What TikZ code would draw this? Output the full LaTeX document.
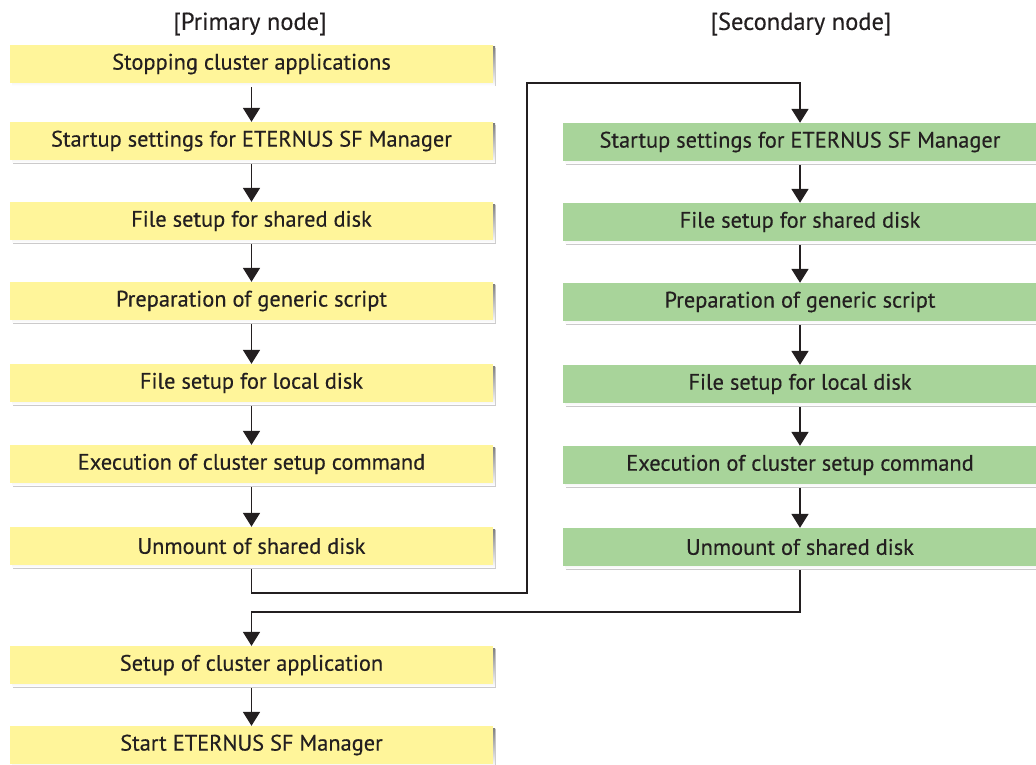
\documentclass[tikz,border=0pt]{standalone}
\usepackage{fontspec}
\setmainfont{PT Sans}[FakeBold=0.3]
\usetikzlibrary{arrows.meta,calc}
\definecolor{boxyellow}{HTML}{FFF59A}
\definecolor{boxgreen}{HTML}{A8D49A}
\definecolor{ink}{HTML}{231F20}
\definecolor{shade}{HTML}{A09EA0}
\tikzset{
  stepbase/.style={minimum height=38pt, inner sep=0pt, font=\fontsize{22.4}{24}\selectfont, text=ink},
  ybox/.style={stepbase, fill=boxyellow, minimum width=483pt},
  gbox/.style={stepbase, fill=boxgreen, minimum width=474pt},
  head/.style={font=\fontsize{24.5}{26}\selectfont, text=ink, inner sep=0pt},
  conn/.style={draw=ink, line width=1.8pt, -{Triangle[width=17pt,length=14pt]}},
}
\begin{document}
\begin{tikzpicture}[x=1pt,y=-1pt]
\useasboundingbox (0,0) rectangle (1036,765);
% headers
\node[head] (hp) at (250,24) {[Primary node]};
\node[head] (hs) at (801,24) {[Secondary node]};
% shadows
\foreach \yy in {64,141,221,301,383,464,546,665,745}{
  \fill[shade!55] (12.5,\yy-19+3) rectangle (496,\yy+19+3.5);
  \fill[shade] (12,\yy-19+2) rectangle (495,\yy+19+2.5);
}
\foreach \yy in {142,222,302,384,465,547}{
  \fill[shade!55] (565.5,\yy-19+3) rectangle (1040,\yy+19+3.5);
  \fill[shade] (565,\yy-19+2) rectangle (1040,\yy+19+2.5);
}
% primary column
\node[ybox] (p1) at (251.5,64) {Stopping cluster applications};
\node[ybox] (p2) at (251.5,141) {Startup settings for ETERNUS SF Manager};
\node[ybox] (p3) at (251.5,221) {File setup for shared disk};
\node[ybox] (p4) at (251.5,301) {Preparation of generic script};
\node[ybox] (p5) at (251.5,383) {File setup for local disk};
\node[ybox] (p6) at (251.5,464) {Execution of cluster setup command};
\node[ybox] (p7) at (251.5,546) {Unmount of shared disk};
\node[ybox] (p8) at (251.5,665) {Setup of cluster application};
\node[ybox] (p9) at (251.5,745) {Start ETERNUS SF Manager};
% secondary column
\node[gbox] (s1) at (800,142) {Startup settings for ETERNUS SF Manager};
\node[gbox] (s2) at (800,222) {File setup for shared disk};
\node[gbox] (s3) at (800,302) {Preparation of generic script};
\node[gbox] (s4) at (800,384) {File setup for local disk};
\node[gbox] (s5) at (800,465) {Execution of cluster setup command};
\node[gbox] (s6) at (800,547) {Unmount of shared disk};
% arrows
\foreach \a/\b in {p1/p2,p2/p3,p3/p4,p4/p5,p5/p6,p6/p7,p8/p9,s1/s2,s2/s3,s3/s4,s4/s5,s5/s6}{
  \draw[conn, shorten <=4pt] (\a.south) -- (\b.north);
}
\coordinate (j1) at (527,593);
\coordinate (j2) at (527,83);
\coordinate (j3) at (251.5,612);
\draw[conn, shorten <=4pt] (p7.south) |- (j1) -- (j2) -| (s1.north);
\draw[conn, shorten <=4pt] (s6.south) |- (j3) -- (p8.north);
\end{tikzpicture}
\end{document}
